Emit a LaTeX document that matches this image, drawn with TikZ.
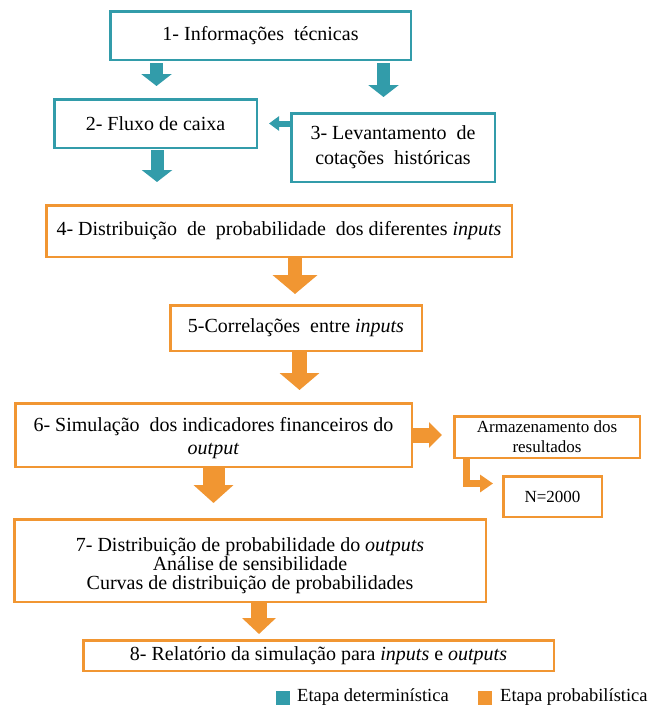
\documentclass[tikz,border=0pt]{standalone}
\usepackage{fontspec}
\setmainfont{Liberation Serif}
\usetikzlibrary{arrows.meta,calc}
\definecolor{tealc}{RGB}{50,156,170}
\definecolor{orangec}{RGB}{241,150,50}
\begin{document}
\begin{tikzpicture}[x=1pt,y=-1pt,
  boxbase/.style={line width=2.5pt,fill=white,inner sep=0pt,align=center,font=\fontsize{20}{25}\selectfont},
  tbox/.style={boxbase,draw=tealc},
  obox/.style={boxbase,draw=orangec},
  boxtxt/.style={inner sep=0pt,align=center},
  tarrow/.style={color=tealc,line width=13pt,-{Triangle[width=30pt,length=12pt]}},
  oarrow/.style={color=orangec,line width=14pt,-{Triangle[width=44pt,length=19pt]}},
  legsq/.style={minimum size=14pt,inner sep=0pt},
  legtxt/.style={anchor=west,inner sep=0pt,font=\fontsize{18.5}{20}\selectfont}
]
\fill[white] (0,0) rectangle (653,715);
\useasboundingbox (0,0) rectangle (653,715);

% boxes
\node[tbox,minimum width=300.5pt,minimum height=48.5pt] (b1) at (260.5,35.5) {1- Informações\ \ técnicas};
\node[tbox,minimum width=202.5pt,minimum height=48.5pt] (b2) at (155.5,123.5) {2- Fluxo de caixa};
\node[tbox,minimum width=203.5pt,minimum height=68.5pt] (b3) at (393,147.5) {3- Levantamento\ \ de\\cotações\ \ históricas};
\node[obox,minimum width=465.5pt,minimum height=51.5pt] (b4) at (279,231) {4- Distribuição\ \ de\ \ probabilidade\ \ dos\ diferentes \textit{inputs}};
\node[obox,minimum width=251.5pt,minimum height=45.5pt] (b5) at (296,328) {5-Correlações\ \ entre \textit{inputs}};
\node[obox,minimum width=396.5pt,minimum height=63.5pt] (b6) at (213.5,435) {};
\node[boxtxt,font=\fontsize{20}{23}\selectfont] (t6) at ($(b6.center)+(0,3)$) {6- Simulação\ \ dos indicadores financeiros do\\\textit{output}};
\node[obox,minimum width=185.5pt,minimum height=41.5pt,font=\fontsize{17}{20}\selectfont] (b6s) at (547,437) {Armazenamento dos\\resultados};
\node[obox,minimum width=98.5pt,minimum height=40.5pt,font=\fontsize{17}{20}\selectfont] (bN) at (552.5,496.5) {N=2000};
\node[obox,minimum width=471.5pt,minimum height=82.5pt] (b7) at (250,560.5) {};
\node[boxtxt,font=\fontsize{20}{19}\selectfont] (t7) at ($(b7.center)+(0,5)$) {7- Distribuição de probabilidade do \textit{outputs}\\Análise de sensibilidade\\Curvas de distribuição de probabilidades};
\node[obox,minimum width=470.5pt,minimum height=30.5pt] (b8) at (318.5,655.5) {8- Relatório da simulação para \textit{inputs} e \textit{outputs}};

% teal arrows
\draw[tarrow] ($(b1.south -| b2.north)+(1,2)$) -- ($(b2.north)+(1,-12)$);
\draw[tarrow] ($(b1.south -| b3.north)+(-9.5,2)$) -- ($(b3.north)+(-9.5,-15)$);
\draw[tarrow,line width=6pt,-{Triangle[width=14pt,length=10pt]}] (b3.west |- b2.east) -- ($(b2.east)+(11,0)$);
\draw[tarrow] ($(b2.south)+(1.5,1)$) -- ($(b2.south |- b4.north)+(1.5,-22)$);

% orange arrows
\draw[oarrow] ($(b4.south -| b5.north)+(-1,0)$) -- ($(b5.north)+(-1,-10)$);
\draw[oarrow,line width=15pt,-{Triangle[width=39pt,length=17pt]}] ($(b5.south)+(3.5,0)$) -- ($(b6.north -| b5.south)+(3.5,-12)$);
\draw[oarrow,line width=15pt,-{Triangle[width=25pt,length=13pt]}] (b6.east) -- ($(b6s.west |- b6.east)+(-11,0)$);
\draw[oarrow,line width=7pt,-{Triangle[width=17pt,length=13pt]}] ($(b6s.south west)+(13.5,0)$) |- ($(bN.west)+(-9,-13)$);
\draw[oarrow,line width=22pt,-{Triangle[width=39pt,length=18pt]}] (b6.south) -- ($(b6.south)+(0,35)$);
\draw[oarrow,line width=16pt,-{Triangle[width=33pt,length=16pt]}] ($(b7.south)+(9,0)$) -- ($(b8.north -| b7.south)+(9,-5)$);

% legend
\node[legsq,fill=tealc] (lg1) at (283,697.5) {};
\node[legtxt] (lt1) at (297,697) {Etapa determinística};
\node[legsq,fill=orangec] (lg2) at (485,697.5) {};
\node[legtxt] (lt2) at (500,697) {Etapa probabilística};
\end{tikzpicture}
\end{document}
